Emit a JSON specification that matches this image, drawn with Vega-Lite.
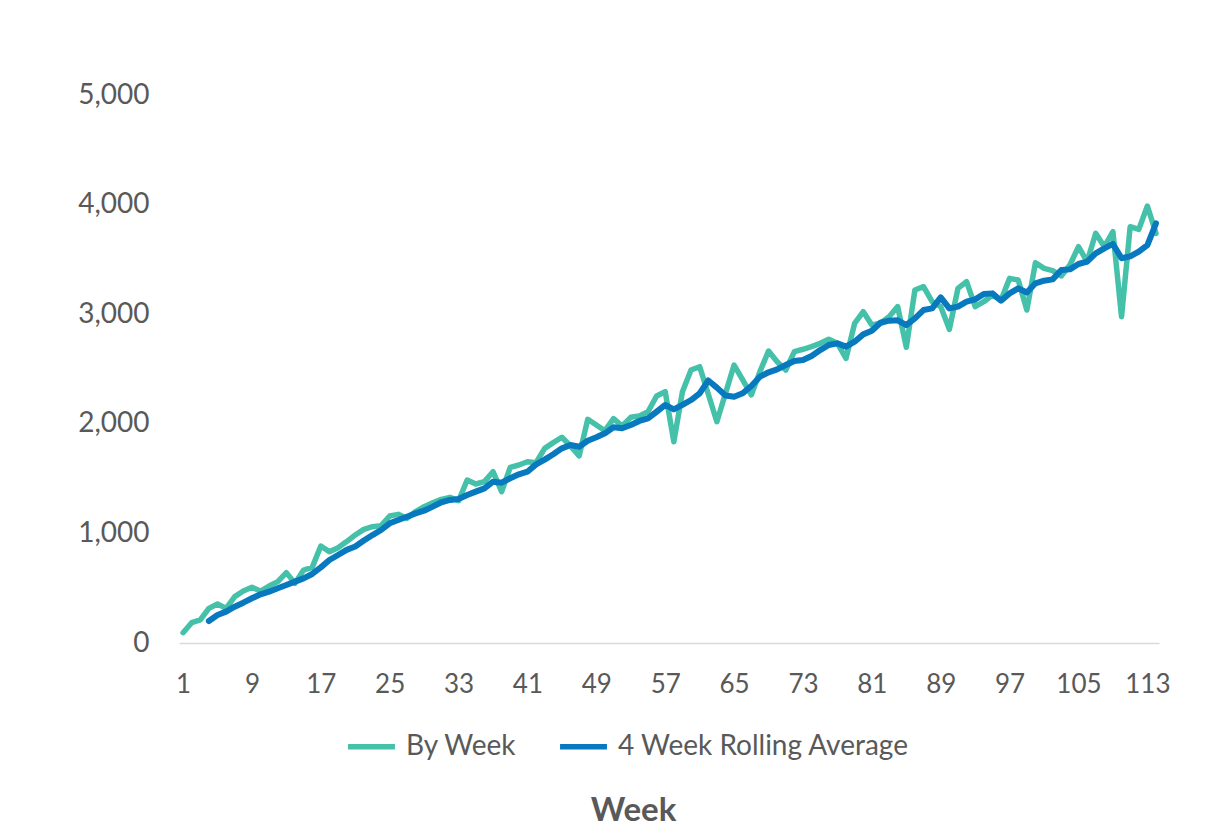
{
  "$schema": "https://vega.github.io/schema/vega-lite/v6.json",
  "autosize": "none",
  "width": 980,
  "height": 548,
  "padding": {"left": 179, "top": 95, "right": 56, "bottom": 193},
  "background": "white",
  "config": {"view": {"stroke": null}, "font": "Lato"},
  "data": {"values": [
    {"Week":1,"By Week":94},{"Week":2,"By Week":185},{"Week":3,"By Week":210},
    {"Week":4,"By Week":316,"4 Week Rolling Average":200},{"Week":5,"By Week":356,"4 Week Rolling Average":255},
    {"Week":6,"By Week":316,"4 Week Rolling Average":286},{"Week":7,"By Week":423,"4 Week Rolling Average":331},
    {"Week":8,"By Week":474,"4 Week Rolling Average":368},{"Week":9,"By Week":508,"4 Week Rolling Average":408},
    {"Week":10,"By Week":474,"4 Week Rolling Average":444},{"Week":11,"By Week":520,"4 Week Rolling Average":468},
    {"Week":12,"By Week":560,"4 Week Rolling Average":499},{"Week":13,"By Week":642,"4 Week Rolling Average":529},
    {"Week":14,"By Week":544,"4 Week Rolling Average":560},{"Week":15,"By Week":666,"4 Week Rolling Average":590},
    {"Week":16,"By Week":690,"4 Week Rolling Average":630},{"Week":17,"By Week":885,"4 Week Rolling Average":690},
    {"Week":18,"By Week":833,"4 Week Rolling Average":757},{"Week":19,"By Week":870,"4 Week Rolling Average":803},
    {"Week":20,"By Week":925,"4 Week Rolling Average":850},{"Week":21,"By Week":985,"4 Week Rolling Average":880},
    {"Week":22,"By Week":1037,"4 Week Rolling Average":935},{"Week":23,"By Week":1061,"4 Week Rolling Average":985},
    {"Week":24,"By Week":1071,"4 Week Rolling Average":1031},{"Week":25,"By Week":1159,"4 Week Rolling Average":1092},
    {"Week":26,"By Week":1174,"4 Week Rolling Average":1122},{"Week":27,"By Week":1137,"4 Week Rolling Average":1152},
    {"Week":28,"By Week":1198,"4 Week Rolling Average":1183},{"Week":29,"By Week":1244,"4 Week Rolling Average":1207},
    {"Week":30,"By Week":1280,"4 Week Rolling Average":1244},{"Week":31,"By Week":1311,"4 Week Rolling Average":1284},
    {"Week":32,"By Week":1329,"4 Week Rolling Average":1305},{"Week":33,"By Week":1298,"4 Week Rolling Average":1314},
    {"Week":34,"By Week":1487,"4 Week Rolling Average":1350},{"Week":35,"By Week":1451,"4 Week Rolling Average":1381},
    {"Week":36,"By Week":1472,"4 Week Rolling Average":1411},{"Week":37,"By Week":1563,"4 Week Rolling Average":1472},
    {"Week":38,"By Week":1381,"4 Week Rolling Average":1463},{"Week":39,"By Week":1603,"4 Week Rolling Average":1503},
    {"Week":40,"By Week":1624,"4 Week Rolling Average":1539},{"Week":41,"By Week":1654,"4 Week Rolling Average":1563},
    {"Week":42,"By Week":1645,"4 Week Rolling Average":1630},{"Week":43,"By Week":1776,"4 Week Rolling Average":1673},
    {"Week":44,"By Week":1828,"4 Week Rolling Average":1723},{"Week":45,"By Week":1877,"4 Week Rolling Average":1776},
    {"Week":46,"By Week":1797,"4 Week Rolling Average":1807},{"Week":47,"By Week":1706,"4 Week Rolling Average":1791},
    {"Week":48,"By Week":2041,"4 Week Rolling Average":1846},{"Week":49,"By Week":1989,"4 Week Rolling Average":1877},
    {"Week":50,"By Week":1937,"4 Week Rolling Average":1913},{"Week":51,"By Week":2047,"4 Week Rolling Average":1968},
    {"Week":52,"By Week":1980,"4 Week Rolling Average":1959},{"Week":53,"By Week":2059,"4 Week Rolling Average":1989},
    {"Week":54,"By Week":2071,"4 Week Rolling Average":2026},{"Week":55,"By Week":2110,"4 Week Rolling Average":2050},
    {"Week":56,"By Week":2254,"4 Week Rolling Average":2110},{"Week":57,"By Week":2293,"4 Week Rolling Average":2172},
    {"Week":58,"By Week":1837,"4 Week Rolling Average":2132},{"Week":59,"By Week":2293,"4 Week Rolling Average":2172},
    {"Week":60,"By Week":2491,"4 Week Rolling Average":2217},{"Week":61,"By Week":2521,"4 Week Rolling Average":2278},
    {"Week":62,"By Week":2272,"4 Week Rolling Average":2395},{"Week":63,"By Week":2019,"4 Week Rolling Average":2330},
    {"Week":64,"By Week":2278,"4 Week Rolling Average":2258},{"Week":65,"By Week":2536,"4 Week Rolling Average":2247},
    {"Week":66,"By Week":2400,"4 Week Rolling Average":2278},{"Week":67,"By Week":2263,"4 Week Rolling Average":2345},
    {"Week":68,"By Week":2476,"4 Week Rolling Average":2430},{"Week":69,"By Week":2664,"4 Week Rolling Average":2470},
    {"Week":70,"By Week":2567,"4 Week Rolling Average":2497},{"Week":71,"By Week":2491,"4 Week Rolling Average":2536},
    {"Week":72,"By Week":2658,"4 Week Rolling Average":2573},{"Week":73,"By Week":2680,"4 Week Rolling Average":2582},
    {"Week":74,"By Week":2704,"4 Week Rolling Average":2619},{"Week":75,"By Week":2734,"4 Week Rolling Average":2673},
    {"Week":76,"By Week":2771,"4 Week Rolling Average":2719},{"Week":77,"By Week":2734,"4 Week Rolling Average":2734},
    {"Week":78,"By Week":2597,"4 Week Rolling Average":2704},{"Week":79,"By Week":2917,"4 Week Rolling Average":2749},
    {"Week":80,"By Week":3023,"4 Week Rolling Average":2816},{"Week":81,"By Week":2901,"4 Week Rolling Average":2849},
    {"Week":82,"By Week":2917,"4 Week Rolling Average":2922},{"Week":83,"By Week":2977,"4 Week Rolling Average":2941},
    {"Week":84,"By Week":3069,"4 Week Rolling Average":2944},{"Week":85,"By Week":2698,"4 Week Rolling Average":2901},
    {"Week":86,"By Week":3221,"4 Week Rolling Average":2962},{"Week":87,"By Week":3251,"4 Week Rolling Average":3038},
    {"Week":88,"By Week":3114,"4 Week Rolling Average":3053},{"Week":89,"By Week":3069,"4 Week Rolling Average":3154},
    {"Week":90,"By Week":2862,"4 Week Rolling Average":3053},{"Week":91,"By Week":3236,"4 Week Rolling Average":3069},
    {"Week":92,"By Week":3297,"4 Week Rolling Average":3114},{"Week":93,"By Week":3069,"4 Week Rolling Average":3135},
    {"Week":94,"By Week":3114,"4 Week Rolling Average":3184},{"Week":95,"By Week":3175,"4 Week Rolling Average":3190},
    {"Week":96,"By Week":3129,"4 Week Rolling Average":3123},{"Week":97,"By Week":3327,"4 Week Rolling Average":3190},
    {"Week":98,"By Week":3312,"4 Week Rolling Average":3236},{"Week":99,"By Week":3038,"4 Week Rolling Average":3198},
    {"Week":100,"By Week":3470,"4 Week Rolling Average":3282},{"Week":101,"By Week":3418,"4 Week Rolling Average":3306},
    {"Week":102,"By Week":3397,"4 Week Rolling Average":3318},{"Week":103,"By Week":3349,"4 Week Rolling Average":3403},
    {"Week":104,"By Week":3449,"4 Week Rolling Average":3409},{"Week":105,"By Week":3616,"4 Week Rolling Average":3458},
    {"Week":106,"By Week":3479,"4 Week Rolling Average":3479},{"Week":107,"By Week":3738,"4 Week Rolling Average":3555},
    {"Week":108,"By Week":3616,"4 Week Rolling Average":3601},{"Week":109,"By Week":3753,"4 Week Rolling Average":3641},
    {"Week":110,"By Week":2977,"4 Week Rolling Average":3510},{"Week":111,"By Week":3798,"4 Week Rolling Average":3527},
    {"Week":112,"By Week":3774,"4 Week Rolling Average":3570},{"Week":113,"By Week":3987,"4 Week Rolling Average":3631},
    {"Week":114,"By Week":3738,"4 Week Rolling Average":3829}
  ]},
  "encoding": {
    "x": {
      "field": "Week", "type": "quantitative",
      "scale": {"domain": [0.53, 114.35], "nice": false, "zero": false},
      "axis": {
        "values": [1, 9, 17, 25, 33, 41, 49, 57, 65, 73, 81, 89, 97, 105, 113],
        "ticks": false, "grid": false, "domainColor": "#D9D9D9", "domainWidth": 1.5,
        "labelFontSize": 26, "labelColor": "#595959", "labelPadding": 28,
        "labelFlush": false, "labelOverlap": false,
        "title": "Week", "titleFontSize": 33, "titleFontWeight": "bold", "titleColor": "#595959",
        "titleX": 454, "titleY": 167, "titleBaseline": "middle", "titleAlign": "center"
      }
    }
  },
  "layer": [
    {
      "mark": {"type": "line", "strokeWidth": 5.5, "strokeJoin": "round", "strokeCap": "round"},
      "encoding": {
        "y": {
          "field": "By Week", "type": "quantitative",
          "scale": {"domain": [0, 5000], "nice": false},
          "axis": {
            "values": [0, 1000, 2000, 3000, 4000, 5000], "format": ",.0f",
            "grid": false, "ticks": false, "domain": false,
            "labelFontSize": 28, "labelColor": "#595959", "labelPadding": 30, "title": null
          }
        },
        "color": {
          "datum": "By Week",
          "scale": {"domain": ["By Week", "4 Week Rolling Average"], "range": ["#45C1AA", "#0878BF"]},
          "legend": {
            "orient": "none", "legendX": 166, "legendY": 625, "direction": "horizontal",
            "title": null, "symbolType": "stroke", "symbolSize": 2200, "symbolStrokeWidth": 5.5,
            "labelFontSize": 28, "labelColor": "#595959", "labelOffset": 8, "columnPadding": 32, "labelLimit": 600
          }
        }
      }
    },
    {
      "mark": {"type": "line", "strokeWidth": 6, "strokeJoin": "round", "strokeCap": "round"},
      "encoding": {
        "y": {
          "field": "4 Week Rolling Average", "type": "quantitative",
          "axis": {
            "values": [0, 1000, 2000, 3000, 4000, 5000], "format": ",.0f",
            "grid": false, "ticks": false, "domain": false,
            "labelFontSize": 28, "labelColor": "#595959", "labelPadding": 30, "title": null
          }
        },
        "color": {"datum": "4 Week Rolling Average"}
      }
    }
  ]
}
